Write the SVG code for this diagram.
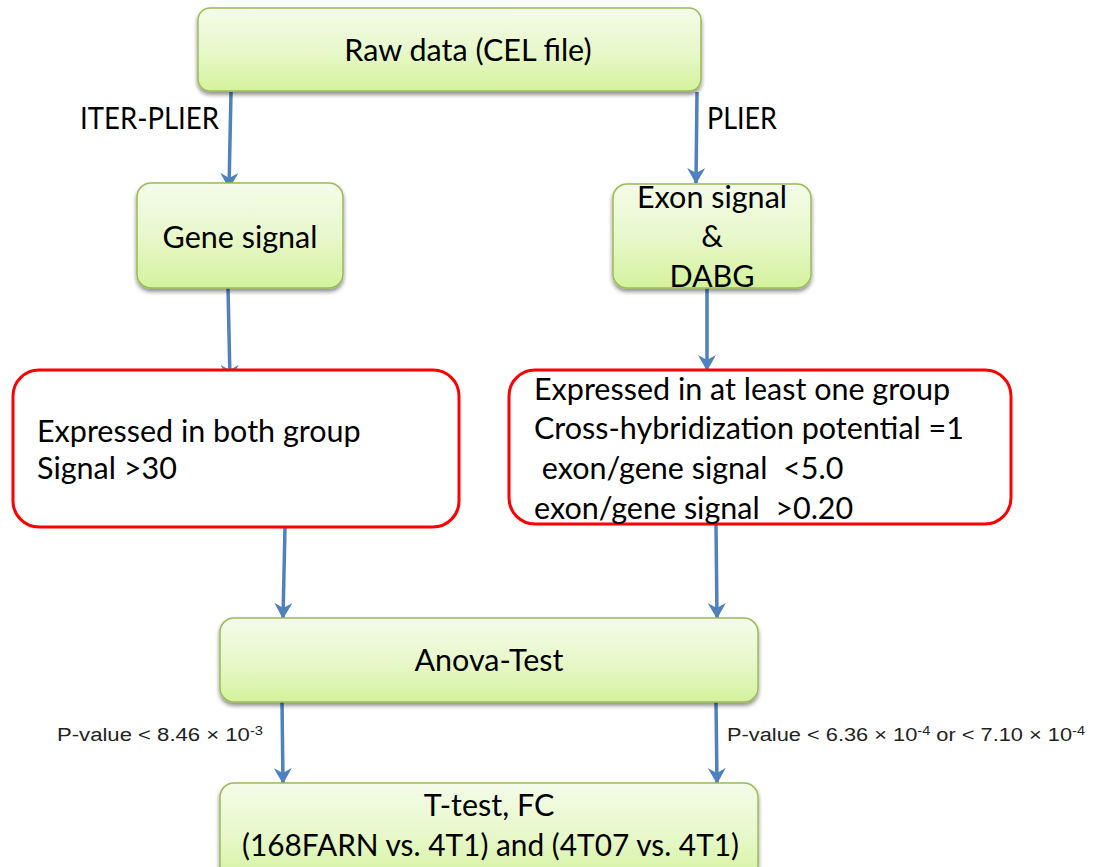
<svg xmlns="http://www.w3.org/2000/svg" width="1100" height="867" viewBox="0 0 1100 867">
<style>
.g{fill:url(#gf);stroke:#9bbb59;stroke-width:1.5}
.r{fill:#fff;stroke:#ff0000;stroke-width:3}
.t{font-family:Lato,"Open Sans",sans-serif;font-size:30.5px;fill:#000}
.p{font-family:"Liberation Sans",Arial,sans-serif;font-size:18px;fill:#222}
.c{stroke:#4f81bd;stroke-width:3.5;fill:none;marker-end:url(#ah)}
</style>
<defs>
<linearGradient id="gf" x1="0" y1="0" x2="0" y2="1">
<stop offset="0" stop-color="#f4fbe8"/>
<stop offset="0.5" stop-color="#e8f8cc"/>
<stop offset="1" stop-color="#d4f29c"/>
</linearGradient>
<filter id="sh" x="-5%" y="-10%" width="110%" height="130%">
<feGaussianBlur in="SourceAlpha" stdDeviation="2"/>
<feOffset dx="0" dy="3" result="b"/>
<feComponentTransfer><feFuncA type="linear" slope="0.45"/></feComponentTransfer>
<feMerge><feMergeNode/><feMergeNode in="SourceGraphic"/></feMerge>
</filter>
<marker id="ah" viewBox="0 0 16 18" refX="15" refY="9" markerWidth="16" markerHeight="18" markerUnits="userSpaceOnUse" orient="auto">
<path d="M0,0 L16,9 L0,18 L5,9 Z" fill="#4f81bd"/>
</marker>
</defs>
<g id="connectors">
<path class="c" d="M231,92 L229,188"/>
<path class="c" d="M697,92 L696,183"/>
<path class="c" d="M228,288 L230,380"/>
<path class="c" d="M707,288 L707,370"/>
<path class="c" d="M285,527 L283,618"/>
<path class="c" d="M716,525 L717,618"/>
<path class="c" d="M282,702 L283,783"/>
<path class="c" d="M716,702 L717,783"/>
</g>
<g id="raw">
<rect class="g" filter="url(#sh)" x="198" y="8" width="503" height="83" rx="12"/>
<text class="t" x="468" y="61" text-anchor="middle">Raw data (CEL file)</text>
</g>
<g id="lbl-iter"><text class="t" x="80" y="129" textLength="139" lengthAdjust="spacingAndGlyphs">ITER-PLIER</text></g>
<g id="lbl-plier"><text class="t" x="707" y="129" textLength="70" lengthAdjust="spacingAndGlyphs">PLIER</text></g>
<g id="gene">
<rect class="g" filter="url(#sh)" x="137" y="183" width="206" height="105" rx="14"/>
<text class="t" x="240" y="248" text-anchor="middle">Gene signal</text>
</g>
<g id="exon">
<rect class="g" filter="url(#sh)" x="613" y="184" width="198" height="104" rx="14"/>
<text class="t" x="712" y="208" text-anchor="middle">Exon signal</text>
<text class="t" x="712" y="247" text-anchor="middle">&amp;</text>
<text class="t" x="712" y="287" text-anchor="middle">DABG</text>
</g>
<g id="filter-left">
<rect class="r" x="13" y="370" width="446" height="157" rx="26"/>
<text class="t" x="37" y="442">Expressed in both group</text>
<text class="t" x="37" y="479">Signal &gt;30</text>
</g>
<g id="filter-right">
<rect class="r" x="509" y="370" width="502" height="154" rx="26"/>
<text class="t" x="534" y="400">Expressed in at least one group</text>
<text class="t" x="534" y="439">Cross-hybridization potential =1</text>
<text class="t" x="534" y="479" xml:space="preserve"> exon/gene signal  &lt;5.0</text>
<text class="t" x="534" y="519" xml:space="preserve">exon/gene signal  &gt;0.20</text>
</g>
<g id="anova">
<rect class="g" filter="url(#sh)" x="220" y="618" width="538" height="84" rx="14"/>
<text class="t" x="489" y="671" text-anchor="middle">Anova-Test</text>
</g>
<g id="lbl-p1"><text class="p" x="57" y="741" textLength="206" lengthAdjust="spacingAndGlyphs">P-value &lt; 8.46 × 10<tspan dy="-6" font-size="12">-3</tspan></text></g>
<g id="lbl-p2"><text class="p" x="727" y="741" textLength="358" lengthAdjust="spacingAndGlyphs">P-value &lt; 6.36 × 10<tspan dy="-6" font-size="12">-4</tspan><tspan dy="6"> or &lt; 7.10 × 10</tspan><tspan dy="-6" font-size="12">-4</tspan></text></g>
<g id="ttest">
<rect class="g" filter="url(#sh)" x="220" y="783" width="538" height="100" rx="14"/>
<text class="t" x="489" y="816" text-anchor="middle">T-test, FC</text>
<text class="t" x="242" y="856" textLength="497" lengthAdjust="spacingAndGlyphs">(168FARN vs. 4T1) and (4T07 vs. 4T1)</text>
</g>
</svg>
